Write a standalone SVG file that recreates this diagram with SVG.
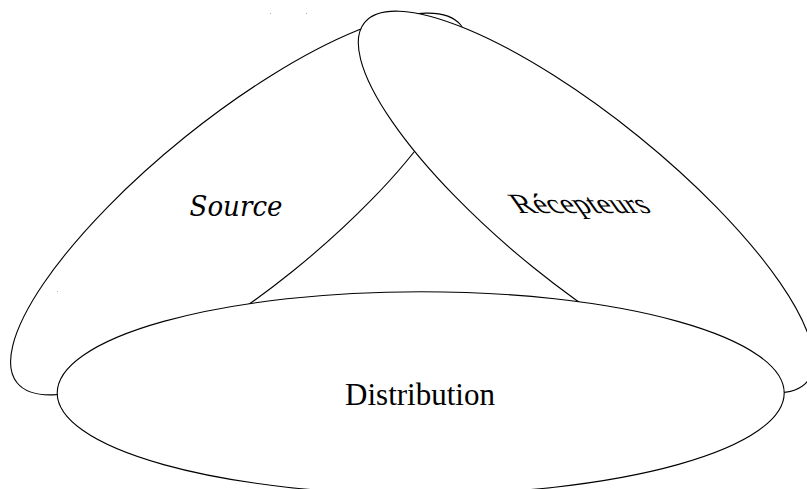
<svg xmlns="http://www.w3.org/2000/svg" width="807" height="489" viewBox="0 0 807 489">
<style>
.shape{fill:#fff;stroke:#000;stroke-width:1.1}
.lbl{font-family:"Liberation Serif","Times New Roman",serif;fill:#000;text-anchor:middle}
.script{font-family:"DejaVu Serif","Liberation Serif",serif;font-style:italic}
</style>
<rect width="807" height="489" fill="#fff"/>
<g id="connectors"></g>
<g id="source">
<ellipse class="shape" cx="239" cy="204" rx="285" ry="86" transform="rotate(-38.85 239 204)"/>
<text class="lbl script" x="236" y="216" font-size="28" textLength="93" lengthAdjust="spacingAndGlyphs">Source</text>
</g>
<g id="recepteurs">
<ellipse class="shape" cx="586" cy="202" rx="285" ry="84" transform="rotate(39 586 202)"/>
<text class="lbl" font-size="28" transform="translate(586 213) skewX(35)" textLength="134" lengthAdjust="spacingAndGlyphs">Récepteurs</text>
</g>
<g id="distribution">
<ellipse class="shape" cx="420.7" cy="393" rx="363.5" ry="101.3"/>
<text class="lbl" x="420" y="405" font-size="31">Distribution</text>
</g>
<g id="specks" fill="#aaa">
<rect x="270" y="13" width="1" height="1"/>
<rect x="306" y="13" width="1" height="1"/>
<rect x="57" y="291" width="1" height="1"/>
</g>
</svg>
